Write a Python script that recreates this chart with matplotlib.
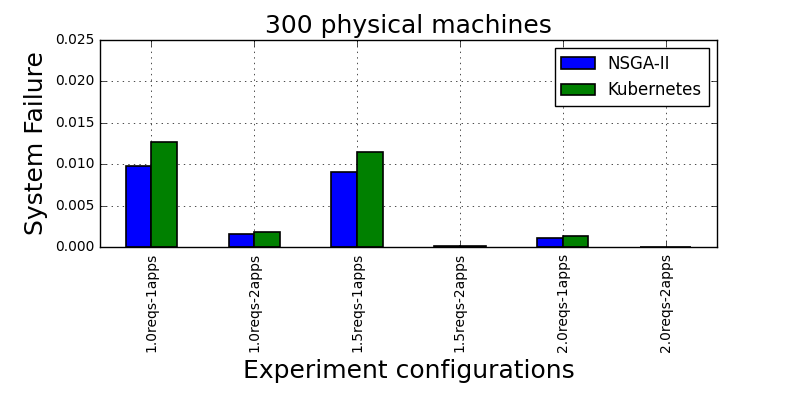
import matplotlib
matplotlib.use("Agg")
import matplotlib.pyplot as plt
import numpy as np

plt.style.use("classic")

configs = ["1.0reqs-1apps", "1.0reqs-2apps", "1.5reqs-1apps",
           "1.5reqs-2apps", "2.0reqs-1apps", "2.0reqs-2apps"]
nsga = [0.0098, 0.00153, 0.0090, 0.00015, 0.00113, 0.00003]
kube = [0.0127, 0.00178, 0.0115, 0.00018, 0.00133, 0.00004]

fig = plt.figure(figsize=(7.97, 3.99), dpi=100)
fig.patch.set_facecolor("white")
ax = fig.add_axes([100 / 797, 1 - 247 / 399, 617 / 797, 207 / 399])

x = np.arange(len(configs))
w = 0.25
ax.bar(x - w, nsga, w, color="blue", edgecolor="black", linewidth=1.2,
       label="NSGA-II", align="edge")
ax.bar(x, kube, w, color="green", edgecolor="black", linewidth=1.2,
       label="Kubernetes", align="edge")

ax.set_xlim(-0.5, len(configs) - 0.5)
ax.set_ylim(0, 0.025)
ax.set_xticks(x)
ax.set_xticklabels(configs, rotation=90, fontsize=10)
ax.tick_params(axis="y", labelsize=10)
ax.set_yticks([0, 0.005, 0.01, 0.015, 0.02, 0.025])
ax.set_yticklabels(["0.000", "0.005", "0.010", "0.015", "0.020", "0.025"])
ax.grid(True)
ax.set_axisbelow(True)

ax.set_title("300 physical machines", fontsize=18)
ax.set_ylabel("System Failure", fontsize=18)
ax.set_xlabel("Experiment configurations", fontsize=18)
ax.legend(loc="upper right", fontsize=12)

fig.savefig("out.png", dpi=100, facecolor="white")
